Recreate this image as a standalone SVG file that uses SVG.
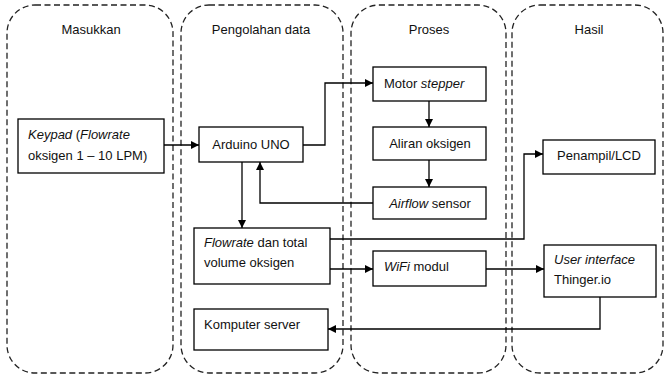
<svg xmlns="http://www.w3.org/2000/svg" width="665" height="378" viewBox="0 0 665 378">
  <defs>
    <marker id="arrow" viewBox="0 0 10 10" refX="10" refY="5" markerWidth="8" markerHeight="8" markerUnits="userSpaceOnUse" orient="auto">
      <path d="M0,0 L10,5 L0,10 z" fill="#000"/>
    </marker>
    <style>
      .panel { fill: none; stroke: #222; stroke-width: 1.3; stroke-dasharray: 6 3.5; }
      .box { fill: #fff; stroke: #000; stroke-width: 1.3; }
      .title { font-family: "Liberation Sans", Arial, sans-serif; font-size: 13px; fill: #111; text-anchor: middle; }
      .lbl { font-family: "Liberation Sans", Arial, sans-serif; font-size: 13px; fill: #111; }
      .mid { text-anchor: middle; }
      .it { font-style: italic; }
      .conn { fill: none; stroke: #000; stroke-width: 1.3; }
    </style>
  </defs>

  <!-- swimlane panels -->
  <g id="lane-masukkan">
    <rect class="panel" x="7" y="5" width="166" height="368" rx="28" ry="28"/>
    <text class="title" x="91" y="34">Masukkan</text>
  </g>
  <g id="lane-pengolahan">
    <rect class="panel" x="181" y="5" width="162" height="368" rx="28" ry="28"/>
    <text class="title" x="261" y="34">Pengolahan data</text>
  </g>
  <g id="lane-proses">
    <rect class="panel" x="351" y="5" width="155" height="368" rx="28" ry="28"/>
    <text class="title" x="429" y="34">Proses</text>
  </g>
  <g id="lane-hasil">
    <rect class="panel" x="512" y="5" width="151" height="368" rx="28" ry="28"/>
    <text class="title" x="589" y="34">Hasil</text>
  </g>

  <!-- connectors -->
  <g id="connectors">
    <path class="conn" d="M164,145 L199,145" marker-end="url(#arrow)"/>
    <path class="conn" d="M303,145 L325,145 L325,83 L373,83" marker-end="url(#arrow)"/>
    <path class="conn" d="M429,101 L429,127" marker-end="url(#arrow)"/>
    <path class="conn" d="M429,160 L429,187" marker-end="url(#arrow)"/>
    <path class="conn" d="M373,203 L260,203 L260,162" marker-end="url(#arrow)"/>
    <path class="conn" d="M242,162 L242,228" marker-end="url(#arrow)"/>
    <path class="conn" d="M330,239 L524,239 L524,154 L543,154" marker-end="url(#arrow)"/>
    <path class="conn" d="M330,269 L373,269" marker-end="url(#arrow)"/>
    <path class="conn" d="M486,269 L544,269" marker-end="url(#arrow)"/>
    <path class="conn" d="M600,297 L600,329 L328,329" marker-end="url(#arrow)"/>
  </g>

  <!-- nodes -->
  <g id="keypad">
    <rect class="box" x="18" y="119" width="146" height="54"/>
    <text class="lbl" x="28" y="139"><tspan class="it">Keypad</tspan> (<tspan class="it">Flowrate</tspan></text>
    <text class="lbl" x="28" y="160">oksigen 1 – 10 LPM)</text>
  </g>
  <g id="arduino">
    <rect class="box" x="199" y="127" width="104" height="35"/>
    <text class="lbl mid" x="251" y="149">Arduino UNO</text>
  </g>
  <g id="motor">
    <rect class="box" x="373" y="67" width="113" height="34"/>
    <text class="lbl" x="384" y="88">Motor <tspan class="it">stepper</tspan></text>
  </g>
  <g id="aliran">
    <rect class="box" x="373" y="127" width="113" height="33"/>
    <text class="lbl mid" x="430" y="148">Aliran oksigen</text>
  </g>
  <g id="airflow">
    <rect class="box" x="373" y="187" width="113" height="32"/>
    <text class="lbl mid" x="430" y="208"><tspan class="it">Airflow</tspan> sensor</text>
  </g>
  <g id="flowrate">
    <rect class="box" x="194" y="228" width="136" height="56"/>
    <text class="lbl" x="204" y="247"><tspan class="it">Flowrate</tspan> dan total</text>
    <text class="lbl" x="204" y="267">volume oksigen</text>
  </g>
  <g id="penampil">
    <rect class="box" x="543" y="140" width="112" height="34"/>
    <text class="lbl mid" x="599" y="160">Penampil/LCD</text>
  </g>
  <g id="wifi">
    <rect class="box" x="373" y="251" width="113" height="35"/>
    <text class="lbl" x="384" y="271"><tspan class="it">WiFi</tspan> modul</text>
  </g>
  <g id="thinger">
    <rect class="box" x="544" y="245" width="112" height="52"/>
    <text class="lbl it" x="554" y="264">User interface</text>
    <text class="lbl" x="554" y="284">Thinger.io</text>
  </g>
  <g id="server">
    <rect class="box" x="194" y="309" width="134" height="41"/>
    <text class="lbl" x="204" y="329">Komputer server</text>
  </g>
</svg>
